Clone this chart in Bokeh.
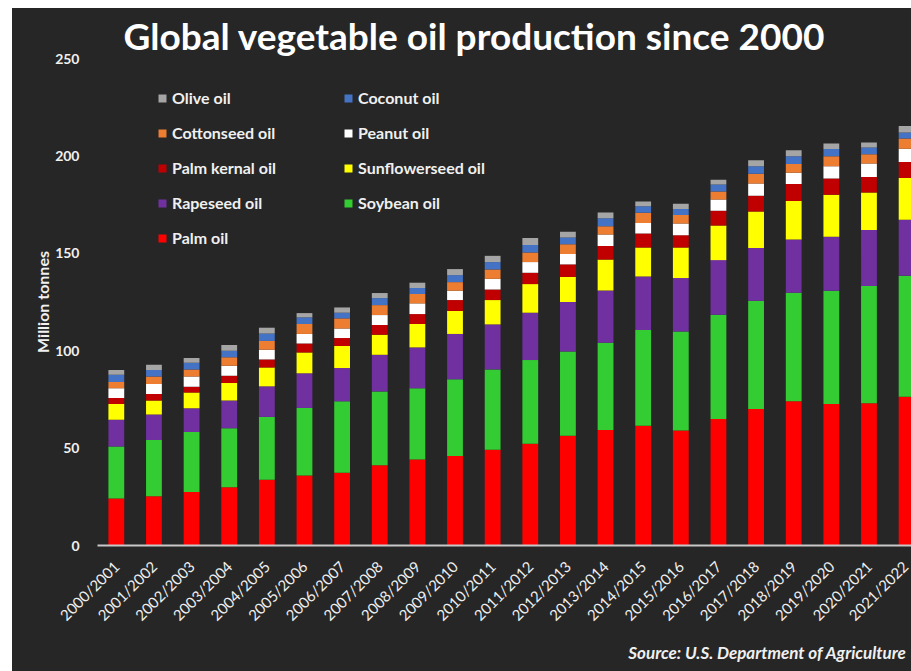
import math
from bokeh.plotting import figure
from bokeh.models import (Range1d, FixedTicker, Title, Legend, LegendItem,
                          ColumnDataSource)
from bokeh.embed import file_html
from bokeh.resources import INLINE

# ---------------- data (million tonnes) ----------------
seasons = ["2000/2001", "2001/2002", "2002/2003", "2003/2004", "2004/2005",
           "2005/2006", "2006/2007", "2007/2008", "2008/2009", "2009/2010",
           "2010/2011", "2011/2012", "2012/2013", "2013/2014", "2014/2015",
           "2015/2016", "2016/2017", "2017/2018", "2018/2019", "2019/2020",
           "2020/2021", "2021/2022"]

palm_oil = [24.1, 25.3, 27.5, 29.9, 33.7, 35.9, 37.4, 41.2, 44.1, 46.0, 49.1,
            52.2, 56.4, 59.3, 61.5, 59.0, 65.0, 70.1, 74.0, 72.7, 73.0, 76.4]
soybean_oil = [26.7, 28.9, 30.8, 30.3, 32.3, 34.7, 36.6, 37.9, 36.6, 39.3, 41.3,
               43.0, 43.2, 44.8, 49.1, 50.9, 53.5, 55.5, 55.7, 58.1, 60.2, 62.1]
rapeseed_oil = [13.8, 13.0, 12.1, 14.2, 15.7, 17.8, 17.1, 18.8, 21.0, 23.3, 23.1,
                24.3, 25.4, 26.8, 27.5, 27.4, 28.0, 27.1, 27.4, 27.7, 28.7, 28.7]
sunflowerseed_oil = [8.1, 7.2, 8.2, 9.0, 9.7, 10.7, 11.3, 10.3, 12.0, 11.8, 12.5,
                     14.7, 12.9, 15.9, 14.9, 15.7, 17.8, 18.7, 19.7, 21.5, 19.3, 21.4]
palm_kernal_oil = [3.0, 3.4, 2.9, 3.8, 4.1, 4.6, 4.1, 5.0, 5.1, 5.6, 5.4,
                   5.8, 6.4, 7.0, 7.2, 6.3, 7.5, 8.2, 8.8, 8.4, 8.0, 8.3]
peanut_oil = [5.0, 5.1, 5.3, 5.1, 5.0, 4.9, 4.9, 5.1, 5.5, 4.8, 5.5,
              5.5, 5.3, 5.8, 5.4, 6.0, 5.8, 6.2, 5.7, 6.3, 6.9, 6.8]
cottonseed_oil = [3.2, 3.9, 3.6, 4.3, 4.5, 5.1, 5.2, 5.1, 4.8, 4.4, 4.8,
                  4.9, 5.1, 4.3, 5.2, 4.4, 4.1, 5.0, 4.6, 5.1, 4.8, 5.2]
coconut_oil = [3.8, 3.3, 3.4, 3.4, 3.8, 3.4, 2.9, 3.6, 3.1, 3.6, 3.8,
               3.8, 3.4, 4.1, 3.4, 3.1, 3.6, 3.9, 3.9, 3.8, 3.4, 3.1]
olive_oil = [2.4, 2.7, 2.5, 2.9, 3.0, 2.2, 2.7, 2.6, 2.7, 3.1, 3.2,
             3.6, 2.9, 2.9, 2.4, 2.7, 2.5, 3.1, 3.1, 2.8, 2.6, 3.4]

series_keys = ["palm", "soy", "rape", "sun", "pk", "peanut", "cotton", "coconut", "olive"]
series_names = ["Palm oil", "Soybean oil", "Rapeseed oil", "Sunflowerseed oil",
                "Palm kernal oil", "Peanut oil", "Cottonseed oil", "Coconut oil",
                "Olive oil"]
series_values = [palm_oil, soybean_oil, rapeseed_oil, sunflowerseed_oil,
                 palm_kernal_oil, peanut_oil, cottonseed_oil, coconut_oil, olive_oil]
colors = ["#ff0000", "#33cc33", "#7030a0", "#ffff00", "#c00000",
          "#ffffff", "#ed7d31", "#4472c4", "#a5a5a5"]

y_ticks = [0, 50, 100, 150, 200, 250]

# ---------------- figure ----------------
BG = "#262626"
TXT = "#f0f0f0"
FONT = "Lato"

x_idx = list(range(len(seasons)))
data = {"x": x_idx}
for k, v in zip(series_keys, series_values):
    data[k] = v
src = ColumnDataSource(data)

p = figure(width=899, height=663,
           x_range=Range1d(-0.5, 21.13), y_range=Range1d(0, 250),
           output_backend="svg", toolbar_location=None,
           min_border_left=85, min_border_right=0,
           min_border_top=50, min_border_bottom=126,
           background_fill_color=BG, border_fill_color=BG,
           outline_line_color=None)
p.margin = (8, 0, 0, 12)
p.styles = {"background-color": BG}

p.title = Title(text="Global vegetable oil production since 2000",
                align="left", offset=26, standoff=1,
                text_color="#ffffff", text_font=FONT,
                text_font_style="bold", text_font_size="37px")

renderers = p.vbar_stack(series_keys, x="x", width=0.42, source=src,
                         color=colors, line_color=None)

p.xgrid.visible = False
p.ygrid.visible = False

# y axis
yax = p.yaxis[0]
yax.ticker = FixedTicker(ticks=y_ticks)
yax.axis_line_color = None
yax.major_tick_line_color = None
yax.minor_tick_line_color = None
yax.major_label_text_color = TXT
yax.major_label_text_font = FONT
yax.major_label_text_font_style = "bold"
yax.major_label_text_font_size = "14px"
yax.major_label_standoff = 12
yax.axis_label = "Million tonnes"
yax.axis_label_text_color = TXT
yax.axis_label_text_font = FONT
yax.axis_label_text_font_style = "bold"
yax.axis_label_text_font_size = "16px"
yax.axis_label_standoff = 0

# x axis
xax = p.xaxis[0]
xax.ticker = FixedTicker(ticks=x_idx)
xax.major_label_overrides = {i: s for i, s in zip(x_idx, seasons)}
xax.axis_line_color = "#c8c8c8"
xax.axis_line_width = 2
xax.major_tick_line_color = None
xax.minor_tick_line_color = None
xax.major_label_orientation = math.pi / 4
xax.major_label_text_color = TXT
xax.major_label_text_font = FONT
xax.major_label_text_font_size = "15px"
xax.major_label_standoff = 12

# source note below the axis
p.add_layout(Title(text="Source: U.S. Department of Agriculture",
                   align="right", offset=5, standoff=13,
                   text_color=TXT, text_font=FONT,
                   text_font_style="bold italic", text_font_size="17px"),
             "below")

# legend (row-major, 2 columns)
order = [8, 7, 6, 5, 4, 3, 2, 1, 0]
items = [LegendItem(label=series_names[i], renderers=[renderers[i]]) for i in order]
legend = Legend(items=items, location=(60, 290), orientation="horizontal",
                ncols=2, padding=0, margin=0, spacing=0,
                glyph_width=10, glyph_height=10, label_standoff=5,
                label_width=171, label_height=35,
                label_text_color=TXT, label_text_font=FONT,
                label_text_font_style="bold", label_text_font_size="16px",
                background_fill_alpha=0, border_line_alpha=0)
p.add_layout(legend)

open("out.html", "w").write(file_html(p, INLINE))
